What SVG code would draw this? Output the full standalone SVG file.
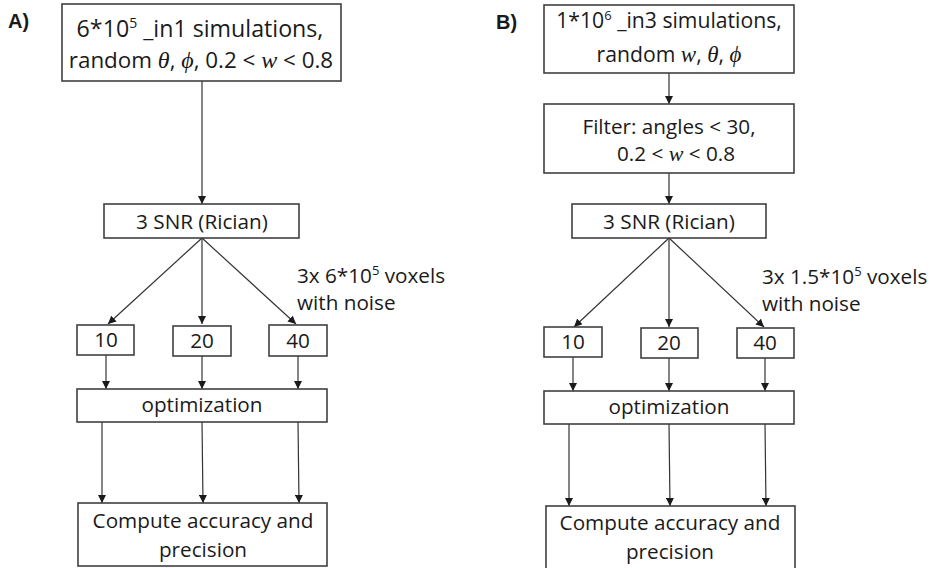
<svg xmlns="http://www.w3.org/2000/svg" width="948" height="568" viewBox="0 0 948 568">
<defs>
<marker id="ah" viewBox="0 0 10 10" refX="10" refY="5" markerWidth="8" markerHeight="8" markerUnits="userSpaceOnUse" orient="auto">
<path d="M0,0 L10,5 L0,10 z" fill="#1a1a1a"/>
</marker>
<style>
.box{fill:#fff;stroke:#404040;stroke-width:1.6}
.t{font-family:"Open Sans","Noto Sans",sans-serif;font-size:20.7px;fill:#1a1a1a;text-anchor:middle}
.tl{font-family:"Open Sans","Noto Sans",sans-serif;font-size:20.7px;fill:#1a1a1a}
.m{font-family:"Liberation Serif","DejaVu Serif",serif;font-style:italic}
.lab{font-family:"Liberation Sans","Arial",sans-serif;font-weight:bold;font-size:20px;fill:#1a1a1a}
.c{stroke:#333;stroke-width:1.2;fill:none;marker-end:url(#ah)}
</style>
</defs>
<rect width="948" height="568" fill="#fff"/>

<text class="lab" x="8" y="28">A)</text>
<text class="lab" x="496" y="29">B)</text>

<g id="connectors">
<line class="c" x1="202" y1="81" x2="202" y2="204"/>
<line class="c" x1="202" y1="238" x2="108" y2="324"/>
<line class="c" x1="202" y1="238" x2="202" y2="324"/>
<line class="c" x1="202" y1="238" x2="296" y2="324"/>
<line class="c" x1="106" y1="355" x2="106" y2="389"/>
<line class="c" x1="202" y1="356" x2="202" y2="389"/>
<line class="c" x1="298" y1="356" x2="298" y2="389"/>
<line class="c" x1="102" y1="422" x2="102" y2="503"/>
<line class="c" x1="202" y1="422" x2="203" y2="503"/>
<line class="c" x1="298" y1="422" x2="299" y2="503"/>

<line class="c" x1="669" y1="73" x2="669" y2="104"/>
<line class="c" x1="669" y1="173" x2="669" y2="204"/>
<line class="c" x1="669" y1="238" x2="574" y2="327"/>
<line class="c" x1="669" y1="238" x2="669" y2="327"/>
<line class="c" x1="669" y1="238" x2="764" y2="327"/>
<line class="c" x1="573" y1="357" x2="573" y2="391"/>
<line class="c" x1="669" y1="358" x2="669" y2="391"/>
<line class="c" x1="765" y1="358" x2="765" y2="391"/>
<line class="c" x1="569" y1="424" x2="569" y2="506"/>
<line class="c" x1="669" y1="424" x2="670" y2="506"/>
<line class="c" x1="765" y1="424" x2="766" y2="506"/>
</g>

<g id="a-sim">
<rect class="box" x="62" y="4" width="279" height="77"/>
<text class="t" x="200" y="37" style="font-size:23.2px">6*10<tspan font-size="14" dy="-9">5</tspan><tspan dy="9"> _in1 simulations,</tspan></text>
<text class="t" x="201" y="68" style="font-size:22.4px">random <tspan class="m" font-size="24">θ</tspan>, <tspan class="m" font-size="24">ϕ</tspan>, 0.2 &lt; <tspan class="m" font-size="24">w</tspan> &lt; 0.8</text>
</g>

<g id="a-snr">
<rect class="box" x="104" y="204" width="195" height="34"/>
<text class="t" x="202" y="229">3 SNR (Rician)</text>
</g>

<text class="tl" x="297" y="283">3x 6*10<tspan font-size="13" dy="-8">5</tspan><tspan dy="8"> voxels</tspan></text>
<text class="tl" x="297" y="310">with noise</text>

<g id="a-10"><rect class="box" x="77" y="325" width="57" height="30"/><text class="t" x="106" y="347">10</text></g>
<g id="a-20"><rect class="box" x="173" y="326" width="58" height="30"/><text class="t" x="202" y="348">20</text></g>
<g id="a-40"><rect class="box" x="269" y="325" width="58" height="31"/><text class="t" x="298" y="348">40</text></g>

<g id="a-opt">
<rect class="box" x="77" y="389" width="250" height="33"/>
<text class="t" x="202" y="412">optimization</text>
</g>

<g id="a-comp">
<rect class="box" x="78" y="503" width="249" height="63"/>
<text class="t" x="203" y="528">Compute accuracy and</text>
<text class="t" x="203" y="557">precision</text>
</g>

<g id="b-sim">
<rect class="box" x="544" y="5" width="250" height="68"/>
<text class="t" x="669" y="28" style="font-size:21.2px">1*10<tspan font-size="13" dy="-8">6</tspan><tspan dy="8"> _in3 simulations,</tspan></text>
<text class="t" x="669" y="62" style="font-size:21.2px">random <tspan class="m" font-size="23">w</tspan>, <tspan class="m" font-size="23">θ</tspan>, <tspan class="m" font-size="23">ϕ</tspan></text>
</g>

<g id="b-filter">
<rect class="box" x="544" y="104" width="250" height="69"/>
<text class="t" x="669" y="134">Filter: angles &lt; 30,</text>
<text class="t" x="676" y="161">0.2 &lt; <tspan class="m" font-size="22">w</tspan> &lt; 0.8</text>
</g>

<g id="b-snr">
<rect class="box" x="572" y="204" width="194" height="34"/>
<text class="t" x="669" y="229">3 SNR (Rician)</text>
</g>

<text class="tl" x="762" y="284">3x 1.5*10<tspan font-size="13" dy="-8">5</tspan><tspan dy="8"> voxels</tspan></text>
<text class="tl" x="762" y="311">with noise</text>

<g id="b-10"><rect class="box" x="544" y="327" width="58" height="30"/><text class="t" x="573" y="349">10</text></g>
<g id="b-20"><rect class="box" x="641" y="328" width="57" height="30"/><text class="t" x="669" y="350">20</text></g>
<g id="b-40"><rect class="box" x="737" y="328" width="57" height="30"/><text class="t" x="765" y="350">40</text></g>

<g id="b-opt">
<rect class="box" x="544" y="391" width="250" height="33"/>
<text class="t" x="669" y="414">optimization</text>
</g>

<g id="b-comp">
<rect class="box" x="546" y="506" width="249" height="70"/>
<text class="t" x="670" y="530">Compute accuracy and</text>
<text class="t" x="670" y="559">precision</text>
</g>
</svg>
